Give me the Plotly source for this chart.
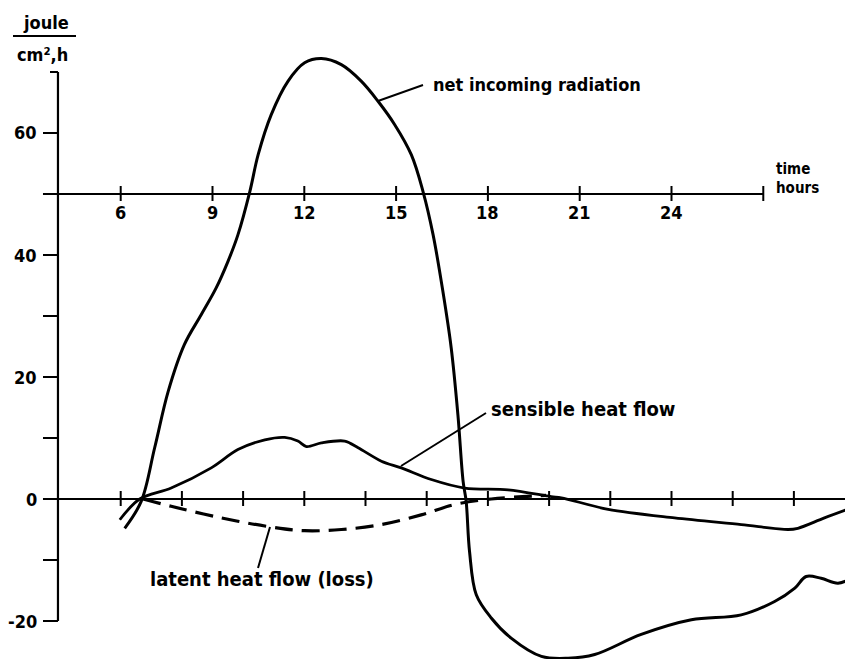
import plotly.graph_objects as go

# ---------------- data ----------------
net_hours = [6.13, 6.67, 7.11, 7.55, 8.08, 8.63, 9.12, 9.51, 9.83, 10.22, 10.49, 10.92,
             11.47, 12.01, 12.56, 13.21, 13.86, 14.41, 14.95, 15.50, 15.88, 16.21, 16.53,
             16.80, 17.02, 17.19, 17.29, 17.40, 17.62, 18.11, 18.76, 19.75, 20.62, 21.49,
             23.01, 24.65, 26.28, 27.37, 28.03, 28.40, 28.89, 29.44, 29.87, 30.19]
net_values = [-4.8, -0.4, 8.4, 17.6, 25.3, 30.2, 34.6, 39.0, 43.3, 50.4, 56.4, 63.0,
              68.5, 71.5, 72.2, 71.2, 68.5, 65.2, 61.4, 56.4, 50.4, 43.3, 34.0,
              24.8, 13.8, 2.9, -0.4, -8.6, -15.7, -19.5, -22.8, -25.8, -26.1, -25.5,
              -22.2, -19.8, -19.0, -16.8, -14.6, -12.7, -13.0, -13.8, -13.0, -11.6]

sens_hours = [5.97, 6.62, 7.65, 8.96, 9.83, 10.71, 11.36, 11.79, 12.07, 12.56, 13.32,
              13.76, 14.52, 15.17, 16.15, 17.24, 18.66, 20.07, 20.40, 21.93, 24.10,
              26.28, 27.81, 28.13, 29.0, 30.19]
sens_values = [-3.4, 0.0, 1.8, 5.1, 8.1, 9.7, 10.1, 9.5, 8.6, 9.2, 9.5,
               8.4, 6.2, 5.1, 3.2, 1.8, 1.5, 0.4, 0.2, -1.7, -3.1,
               -4.2, -5.0, -4.8, -3.1, -0.9]

lat_hours = [6.73, 7.65, 9.29, 10.92, 12.01, 13.21, 14.52, 15.82, 16.91, 18.11, 19.9]
lat_values = [0.0, -1.2, -3.1, -4.6, -5.2, -5.0, -4.2, -2.6, -0.9, 0.0, 0.6]

time_ticks = [6, 9, 12, 15, 18, 21, 24]
time_tick_labels = ["6", "9", "12", "15", "18", "21", "24"]
time_axis_end = 27
zero_line_ticks = [6, 8, 10, 12, 14, 16, 18, 20, 22, 24, 26, 28]
y_major_ticks = [60, 40, 20, 0, -20]
y_major_labels = ["60", "40", "20", "0", "-20"]
y_minor_ticks = [30, 10, -10]
y_top = 70
y_axis_at = 3.95
time_axis_level = 50

# ---------------- layout helpers ----------------
W, H = 853, 659
X_RANGE = [2.317, 30.193]
Y_RANGE = [-27.54, 80.49]
FONT = "DejaVu Sans Condensed, DejaVu Sans, sans-serif"
INK = "black"


def px(x, y):
    return x / W, 1 - y / H


fig = go.Figure()

# curves
fig.add_trace(go.Scatter(x=net_hours, y=net_values, mode="lines",
                         line=dict(color=INK, width=3, shape="spline", smoothing=1.0),
                         name="net incoming radiation", hoverinfo="skip"))
fig.add_trace(go.Scatter(x=sens_hours, y=sens_values, mode="lines",
                         line=dict(color=INK, width=2.8, shape="spline", smoothing=0.9),
                         name="sensible heat flow", hoverinfo="skip"))
fig.add_trace(go.Scatter(x=lat_hours, y=lat_values, mode="lines",
                         line=dict(color=INK, width=3.2, shape="spline", smoothing=1.0,
                                   dash="18px,9px"),
                         name="latent heat flow (loss)", hoverinfo="skip"))

shapes = []
# time axis at y = 50
shapes.append(dict(type="line", xref="x", yref="y", x0=3.46, x1=time_axis_end,
                   y0=time_axis_level, y1=time_axis_level, line=dict(color=INK, width=2)))
# zero line
shapes.append(dict(type="line", xref="x", yref="y", x0=3.46, x1=X_RANGE[1] + 1,
                   y0=0, y1=0, line=dict(color=INK, width=2.2)))
# y axis
shapes.append(dict(type="line", xref="x", yref="y", x0=y_axis_at, x1=y_axis_at,
                   y0=-20, y1=y_top, line=dict(color=INK, width=2.2)))
# y ticks (pixel length to the left)
for v in [t for t in y_major_ticks if t != 0] + y_minor_ticks:
    shapes.append(dict(type="line", xref="x", yref="y", xsizemode="pixel", xanchor=y_axis_at,
                       x0=-15, x1=0, y0=v, y1=v, line=dict(color=INK, width=2)))
shapes.append(dict(type="line", xref="x", yref="y", xsizemode="pixel", xanchor=y_axis_at,
                   x0=-8, x1=0, y0=y_top, y1=y_top, line=dict(color=INK, width=2)))
# crossing ticks on time axis and zero line
for t in time_ticks + [time_axis_end]:
    shapes.append(dict(type="line", xref="x", yref="y", ysizemode="pixel", yanchor=time_axis_level,
                       x0=t, x1=t, y0=-7, y1=8, line=dict(color=INK, width=2)))
for t in zero_line_ticks:
    shapes.append(dict(type="line", xref="x", yref="y", ysizemode="pixel", yanchor=0,
                       x0=t, x1=t, y0=-7, y1=8, line=dict(color=INK, width=2)))


# leader lines and unit underline (paper positions)
def seg(p0, p1, w=2):
    a = px(*p0)
    b = px(*p1)
    return dict(type="line", xref="paper", yref="paper", x0=a[0], y0=a[1], x1=b[0], y1=b[1],
                line=dict(color=INK, width=w))


shapes.append(seg((370, 93), (415, 77)))
shapes.append(seg((393, 458), (478, 405)))
shapes.append(seg((262, 519), (250, 560)))
shapes.append(seg((5, 28), (68, 28)))

annotations = []
for t, lab in zip(time_ticks, time_tick_labels):
    annotations.append(dict(x=t, y=time_axis_level, xref="x", yref="y", text=lab, showarrow=False,
                            yshift=-19, xanchor="center", yanchor="middle",
                            font=dict(family=FONT, size=18, color=INK, weight="bold")))
for v, lab in zip(y_major_ticks, y_major_labels):
    annotations.append(dict(x=y_axis_at, y=v, xref="x", yref="y", text=lab, showarrow=False,
                            xshift=-19, xanchor="right", yanchor="middle",
                            font=dict(family=FONT, size=18, color=INK, weight="bold")))


def label(text, x, y, size=18, anchor="left"):
    p = px(x, y)
    return dict(x=p[0], y=p[1], xref="paper", yref="paper", text=text, showarrow=False,
                xanchor=anchor, yanchor="middle", align="left",
                font=dict(family=FONT, size=size, color=INK, weight="bold"))


annotations.append(label("net incoming radiation", 423, 77, size=18))
annotations.append(label("sensible heat flow", 481, 401, size=20))
annotations.append(label("latent heat flow (loss)", 140, 571, size=20))
annotations.append(label("time", 766, 161, size=15))
annotations.append(label("hours", 766, 180, size=15))
annotations.append(label("joule", 38, 15, size=18, anchor="center"))
annotations.append(label("cm²,h", 34, 46, size=18, anchor="center"))

fig.update_layout(
    width=W, height=H,
    margin=dict(l=0, r=0, t=0, b=0),
    paper_bgcolor="white", plot_bgcolor="white",
    showlegend=False,
    xaxis=dict(range=X_RANGE, visible=False, fixedrange=True),
    yaxis=dict(range=Y_RANGE, visible=False, fixedrange=True),
    shapes=shapes,
    annotations=annotations,
)

fig.write_html("out.html")
